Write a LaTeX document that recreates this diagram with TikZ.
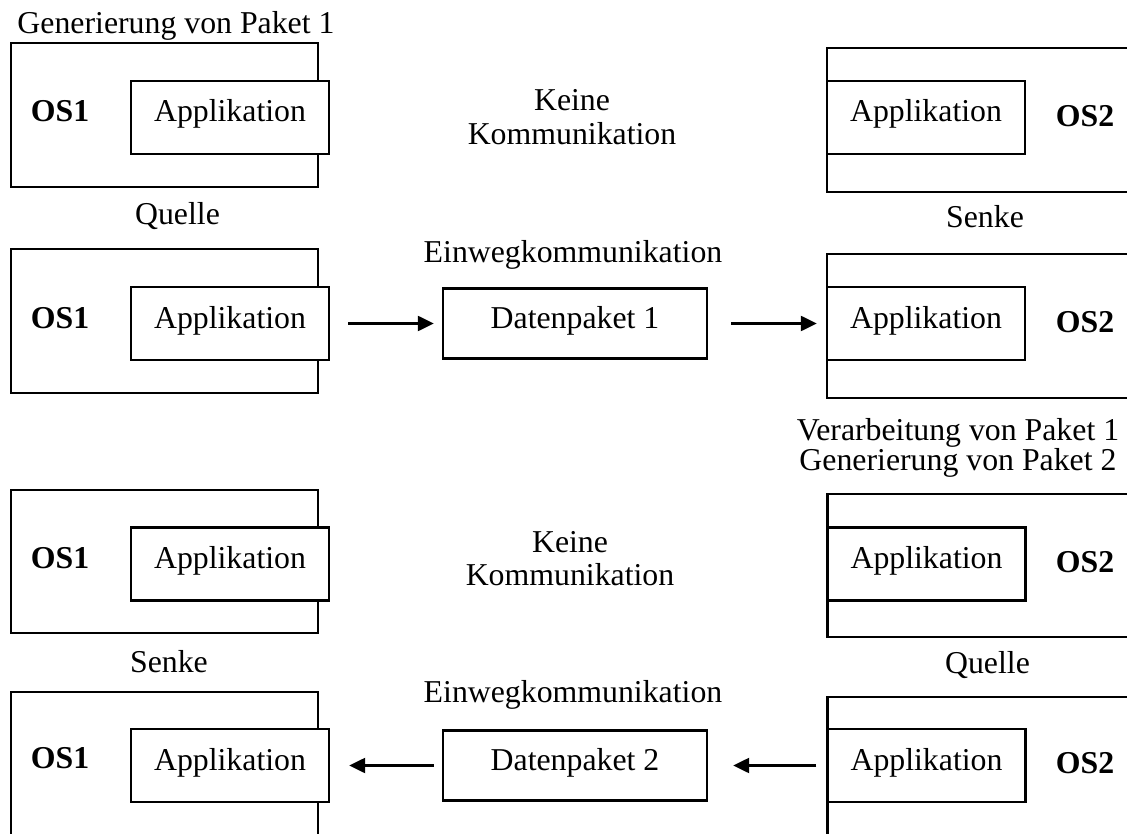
\documentclass[tikz,border=0pt]{standalone}
\usepackage{fontspec}
\setmainfont{Liberation Serif}
\usetikzlibrary{arrows.meta}
\begin{document}
\begin{tikzpicture}[x=1pt,y=-1pt,
  fnt/.style={font=\fontsize{31.8}{34}\selectfont},
  box/.style={draw, line width=2.4pt, fill=white, inner sep=0pt},
  osbox/.style={box, minimum width=307pt, minimum height=144pt},
  osboxR/.style={box, minimum width=313pt, minimum height=144pt},
  appbox/.style={box, fnt, minimum width=198pt, minimum height=73pt, text height=22pt, text depth=13pt},
  pktbox/.style={box, fnt, minimum width=264pt, minimum height=70pt, text height=22pt, text depth=12pt},
  lbl/.style={fnt, inner sep=0pt, anchor=base, align=center},
  oslbl/.style={lbl, font=\fontsize{31.8}{34}\selectfont\bfseries},
  arr/.style={line width=2.4pt, -{Triangle[length=16pt,width=15pt]}}
]
\clip (0,0) rectangle (1127,834);
\fill[white] (0,0) rectangle (1127,834);

% ---------- Row 1 ----------
\node[lbl] (gen1) at (176,34) {Generierung von Paket 1};
\node[osbox] (o1L) at (164.5,115) {};
\node[appbox] (a1L) at (230,117.5) {Applikation};
\node[oslbl] (os1a) at (60,122) {OS1};
\node[lbl] (k1a) at (572,111) {Keine};
\node[lbl] (k1b) at (572,145) {Kommunikation};
\node[osboxR] (o1R) at (983.5,120) {};
\node[appbox] (a1R) at (926,117.5) {Applikation};
\node[oslbl] (os2a) at (1085,127) {OS2};

% ---------- Row 2 ----------
\node[lbl] (q1) at (177.5,225) {Quelle};
\node[lbl] (s1) at (985,228) {Senke};
\node[lbl] (e1) at (573,263) {Einwegkommunikation};
\node[osbox] (o2L) at (164.5,321) {};
\node[appbox] (a2L) at (230,323.5) {Applikation};
\node[oslbl] (os1b) at (60,328) {OS1};
\node[pktbox] (p1) at (575,323.5) {Datenpaket 1};
\node[osboxR] (o2R) at (983.5,326) {};
\node[appbox] (a2R) at (926,323.5) {Applikation};
\node[oslbl] (os2b) at (1085,332) {OS2};
\draw[arr, shorten <=18pt, shorten >=8pt] (a2L.east) -- (p1.west);
\draw[arr, shorten <=23pt, shorten >=9pt] (p1.east) -- (a2R.west);

% ---------- Row 3 ----------
\node[lbl] (v1) at (958,440) {Verarbeitung von Paket 1};
\node[lbl] (g2) at (958,470) {Generierung von Paket 2};
\node[osbox, minimum height=143pt] (o3L) at (164.5,561.5) {};
\node[appbox] (a3L) at (230,564) {Applikation};
\node[oslbl] (os1c) at (60,568) {OS1};
\node[lbl] (k2a) at (570,552) {Keine};
\node[lbl] (k2b) at (570,585) {Kommunikation};
\node[osboxR, minimum height=143pt] (o3R) at (984,565.5) {};
\node[appbox] (a3R) at (926.5,564) {Applikation};
\node[oslbl] (os2c) at (1085,572) {OS2};

% ---------- Row 4 ----------
\node[lbl] (s2) at (169,672) {Senke};
\node[lbl] (q2) at (987.5,673) {Quelle};
\node[lbl] (e2) at (573,702) {Einwegkommunikation};
\node[osbox, minimum height=160pt] (o4L) at (164.5,772) {};
\node[appbox] (a4L) at (230,765.5) {Applikation};
\node[oslbl] (os1d) at (60,768) {OS1};
\node[pktbox] (p2) at (575,765.5) {Datenpaket 2};
\node[osboxR, minimum height=160pt] (o4R) at (984,777) {};
\node[appbox] (a4R) at (926.5,765.5) {Applikation};
\node[oslbl] (os2d) at (1085,773) {OS2};
\draw[arr, shorten <=10pt, shorten >=25pt] (a4R.west) -- (p2.east);
\draw[arr, shorten <=8pt, shorten >=19pt] (p2.west) -- (a4L.east);
\end{tikzpicture}
\end{document}
